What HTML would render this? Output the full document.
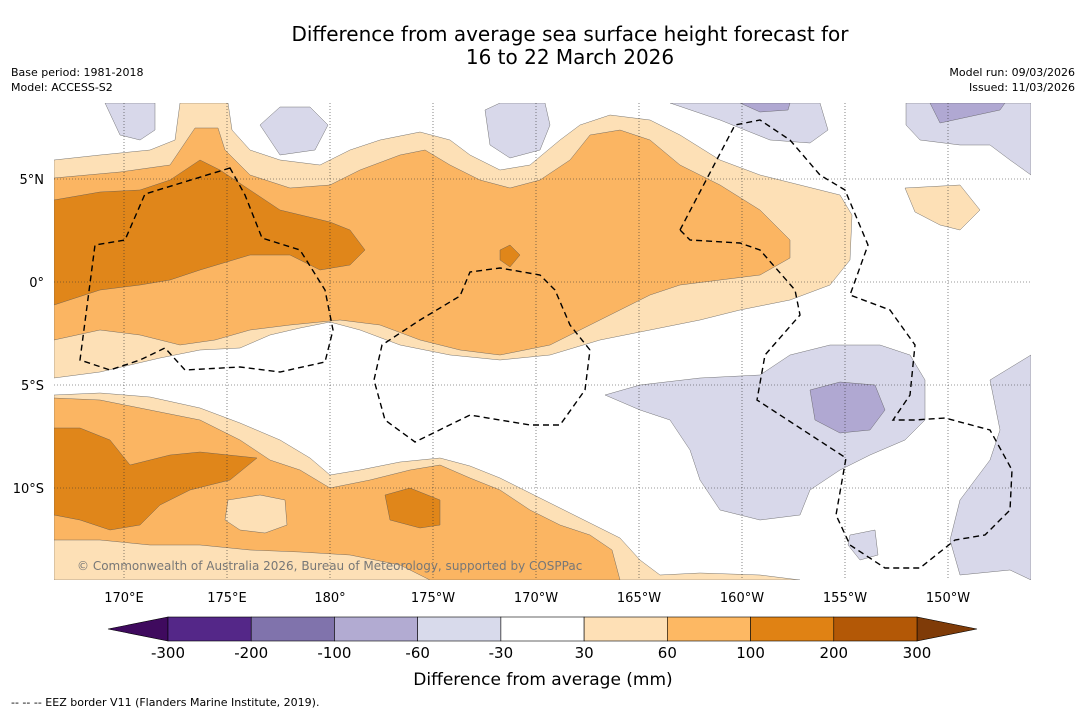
<!DOCTYPE html>
<html><head><meta charset="utf-8"><style>
body{margin:0;background:#fff;font-family:"DejaVu Sans","Liberation Sans",sans-serif;}
svg{display:block}
</style></head><body>
<svg id="chart" width="1085" height="713" xmlns="http://www.w3.org/2000/svg" font-family="DejaVu Sans, Liberation Sans, sans-serif">
<rect width="1085" height="713" fill="#fff"/>
<text x="570" y="41" text-anchor="middle" font-size="20">Difference from average sea surface height forecast for</text>
<text x="570" y="64" text-anchor="middle" font-size="20">16 to 22 March 2026</text>
<text x="11" y="76" font-size="11">Base period: 1981-2018</text>
<text x="11" y="91" font-size="11">Model: ACCESS-S2</text>
<text x="1075" y="76" font-size="11" text-anchor="end">Model run: 09/03/2026</text>
<text x="1075" y="91" font-size="11" text-anchor="end">Issued: 11/03/2026</text>
<defs><clipPath id="mc"><rect x="54" y="103" width="977" height="477"/></clipPath></defs>
<g clip-path="url(#mc)">
<g stroke="#555" stroke-width="0.4">
<polygon fill="#fde0b6" points="54,160 100,155 150,150 175,140 180,103 228,103 232,130 250,150 280,160 320,165 350,150 380,140 420,132 450,140 470,155 500,170 530,165 560,140 580,125 610,115 650,120 680,135 720,160 760,175 800,185 840,195 852,215 850,260 830,285 790,300 740,310 700,320 650,330 600,340 550,355 500,360 450,355 400,345 360,330 330,322 300,328 270,335 240,348 200,350 160,358 130,365 100,372 54,378"/>
<polygon fill="#fde0b6" points="54,395 100,393 150,397 200,408 240,423 280,440 310,458 330,475 360,470 400,462 440,458 470,466 500,478 540,498 580,518 620,538 640,560 660,575 700,573 760,575 800,580 54,580"/>
<polygon fill="#fde0b6" points="905,188 960,185 980,210 960,230 940,225 915,212"/>
<polygon fill="#fbb562" points="54,178 120,172 170,165 195,128 218,128 225,150 250,175 290,188 330,185 360,170 400,155 425,150 450,165 480,180 510,188 540,180 570,160 590,135 620,130 650,140 680,165 720,185 760,210 790,240 790,258 760,275 720,280 680,285 650,295 610,315 580,330 550,345 500,355 460,350 420,340 380,325 340,320 290,325 250,330 215,340 180,345 140,335 100,330 54,340"/>
<polygon fill="#fbb562" points="54,398 100,400 150,410 200,420 240,440 270,460 300,470 330,488 370,480 410,470 440,465 470,478 500,490 530,510 560,525 590,535 612,550 620,580 430,580 400,565 350,555 300,552 250,550 200,545 150,545 100,540 54,540"/>
<polygon fill="#fde0b6" points="228,500 260,495 285,500 287,525 265,533 240,530 225,520"/>
<polygon fill="#e0861a" points="54,200 100,192 140,190 170,180 200,160 220,170 250,190 280,210 330,222 350,230 365,250 350,265 320,270 290,255 250,255 200,270 170,280 140,285 100,290 54,305"/>
<polygon fill="#e0861a" points="500,250 510,245 520,255 510,267 500,260"/>
<polygon fill="#e0861a" points="54,428 80,428 110,440 130,465 170,455 200,452 257,458 230,480 190,490 160,505 140,525 110,530 80,520 54,515"/>
<polygon fill="#e0861a" points="385,495 410,488 440,500 440,525 420,528 390,520"/>
<g fill="#d8d8ea">
<polygon points="105,103 155,103 155,130 140,140 120,135"/>
<polygon points="260,125 280,107 310,107 328,125 315,150 280,155"/>
<polygon points="485,110 500,103 545,103 550,125 540,150 510,158 490,145"/>
<polygon points="670,103 820,103 828,130 810,143 770,140 720,120"/>
<polygon points="906,103 1031,103 1031,175 1010,160 990,145 960,145 920,140 906,125"/>
<polygon points="605,395 640,385 700,378 760,375 790,355 830,345 880,345 910,355 925,380 925,420 905,440 870,455 840,470 810,490 800,515 760,520 720,510 700,480 690,450 670,420 640,410"/>
<polygon points="990,380 1031,355 1031,580 1010,570 960,575 950,540 960,500 990,460 1000,430"/>
<polygon points="850,535 875,530 878,555 860,560 848,545"/>
</g>
<g fill="#b0a8d2">
<polygon points="810,390 840,382 875,385 885,410 870,430 840,433 815,420"/>
<polygon points="740,103 790,103 788,110 760,112"/>
<polygon points="930,103 1005,103 1000,110 940,123"/>
</g>
</g>
<g id="grid" stroke="#333" stroke-width="0.6" stroke-dasharray="1,2"></g>
<g fill="none" stroke="#000" stroke-width="1.4" stroke-dasharray="6,4">
<path d="M230,168 L145,194 L125,240 L95,245 L80,360 L110,370 L140,360 L165,348 L185,370 L240,367 L280,372 L325,362 L333,330 L325,290 L300,250 L262,238 L245,195 Z"/>
<path d="M590,350 L570,325 L555,290 L540,275 L500,268 L470,272 L460,296 L420,320 L382,345 L374,380 L385,420 L415,442 L470,415 L530,425 L560,425 L585,390 L590,350"/>
<path d="M680,230 L735,125 L760,120 L790,140 L820,175 L845,190 L868,245 L850,295 L890,310 L915,345 L910,395 L893,420 L915,420 L945,418 L990,430 L1012,470 L1010,510 L985,535 L955,540 L920,568 L885,568 L850,545 L836,515 L846,458 L757,400 L765,355 L800,315 L795,290 L760,250 L740,243 L690,240 Z"/>
</g>
<text x="77" y="570" font-size="12" fill="#777">© Commonwealth of Australia 2026, Bureau of Meteorology, supported by COSPPac</text>
</g>
<g id="axes" font-size="13"></g>
<g id="cbar"></g>
<text x="543" y="685" text-anchor="middle" font-size="17">Difference from average (mm)</text>
<text x="11" y="706" font-size="11">--  --  -- EEZ border V11 (Flanders Marine Institute, 2019).</text>
</svg>
<script>
const lonTicks=[170,175,180,-175,-170,-165,-160,-155,-150];
const lonLabels=["170°E","175°E","180°","175°W","170°W","165°W","160°W","155°W","150°W"];
const latTicks=[5,0,-5,-10];
const latLabels=["5°N","0°","5°S","10°S"];
const cbLevels=[-300,-200,-100,-60,-30,30,60,100,200,300];
const cbColors=["#542788","#8073ac","#b2abd2","#d8daeb","#ffffff","#fee0b6","#fdb863","#e08214","#b35806"];
const NS="http://www.w3.org/2000/svg";
function lx(l){let v=l<0?l+360:l;return 124+(v-170)*20.6;}
function ly(l){return 282-l*20.6;}
const grid=document.getElementById('grid'),axes=document.getElementById('axes'),cb=document.getElementById('cbar');
function mk(t,a,p){const e=document.createElementNS(NS,t);for(const k in a)e.setAttribute(k,a[k]);p.appendChild(e);return e;}
lonTicks.forEach((l,i)=>{const x=lx(l);
const g=mk('line',{x1:x,x2:x,y1:103,y2:580},grid);


const t=mk('text',{x:x,y:602,'text-anchor':'middle'},axes);t.textContent=lonLabels[i];

});
latTicks.forEach((l,i)=>{const y=ly(l);
const g=mk('line',{x1:54,x2:1031,y1:y,y2:y},grid);


const t=mk('text',{x:44,y:y+5,'text-anchor':'end'},axes);t.textContent=latLabels[i];

});
const x0=168,x1=917,w=(x1-x0)/(cbLevels.length-1),y0=617,h=24;
const lt=mk('polygon',{points:`108,629 ${x0},${y0} ${x0},${y0+h}`,fill:'#3f0a5e',stroke:'#000','stroke-width':0.6},cb);


const rt=mk('polygon',{points:`977,629 ${x1},${y0} ${x1},${y0+h}`,fill:'#7f3b08',stroke:'#000','stroke-width':0.6},cb);


cbColors.forEach((c,i)=>{const r=mk('rect',{x:x0+i*w,y:y0,width:w,height:h,fill:c,stroke:'#000','stroke-width':0.6},cb);

});
cbLevels.forEach((v,i)=>{const t=mk('text',{x:x0+i*w,y:658,'text-anchor':'middle','font-size':15},cb);t.textContent=v;

});
</script>
</body></html>
